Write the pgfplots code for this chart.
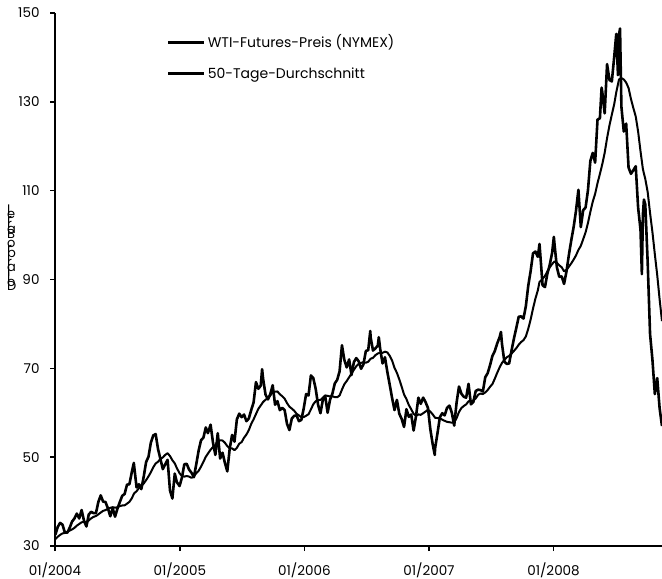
\documentclass[border=0pt]{standalone}
\usepackage{fontspec}
\setmainfont{Poppins}
\usepackage{pgfplots}
\usepackage{pgfplotstable}
\pgfplotsset{compat=1.18}
\usepgfplotslibrary{dateplot}

\pgfplotstableread{
d p
2004-01-02 32.5
2004-01-09 34.3
2004-01-16 35.2
2004-01-23 34.8
2004-01-30 33.0
2004-02-06 33.0
2004-02-13 34.1
2004-02-20 35.5
2004-02-27 36.2
2004-03-05 37.3
2004-03-12 36.2
2004-03-19 38.1
2004-03-26 35.7
2004-04-02 34.4
2004-04-09 37.1
2004-04-16 37.7
2004-04-23 37.4
2004-04-30 37.4
2004-05-07 39.9
2004-05-14 41.4
2004-05-21 40.0
2004-05-28 39.9
2004-06-04 38.5
2004-06-11 36.7
2004-06-18 38.5
2004-06-25 36.6
2004-07-02 38.4
2004-07-09 39.9
2004-07-16 41.3
2004-07-23 41.7
2004-07-30 43.8
2004-08-06 43.9
2004-08-13 46.6
2004-08-19 48.7
2004-08-27 43.2
2004-09-03 43.9
2004-09-10 42.8
2004-09-17 45.6
2004-09-24 48.9
2004-10-01 50.1
2004-10-08 53.3
2004-10-15 54.9
2004-10-22 55.2
2004-10-29 51.8
2004-11-05 49.6
2004-11-12 47.3
2004-11-19 48.4
2004-11-26 49.4
2004-12-03 42.5
2004-12-10 40.7
2004-12-17 46.3
2004-12-23 44.4
2004-12-31 43.5
2005-01-07 45.4
2005-01-14 48.4
2005-01-21 48.5
2005-01-28 47.2
2005-02-04 46.5
2005-02-11 45.5
2005-02-18 48.4
2005-02-25 51.5
2005-03-04 53.8
2005-03-11 54.4
2005-03-18 56.7
2005-03-24 55.4
2005-04-01 57.3
2005-04-08 53.3
2005-04-15 50.5
2005-04-22 55.4
2005-04-29 49.7
2005-05-06 51.0
2005-05-13 48.7
2005-05-20 46.8
2005-05-27 51.9
2005-06-03 55.0
2005-06-10 53.5
2005-06-17 58.5
2005-06-24 59.8
2005-07-01 59.0
2005-07-08 59.6
2005-07-15 58.1
2005-07-22 58.7
2005-07-29 60.6
2005-08-05 62.3
2005-08-12 66.9
2005-08-19 65.4
2005-08-26 66.1
2005-08-30 69.8
2005-09-02 67.6
2005-09-09 64.1
2005-09-16 63.0
2005-09-23 64.2
2005-09-30 66.2
2005-10-07 61.8
2005-10-14 62.6
2005-10-21 60.6
2005-10-28 61.1
2005-11-04 60.6
2005-11-11 57.5
2005-11-18 56.1
2005-11-25 58.7
2005-12-02 59.3
2005-12-09 59.4
2005-12-16 58.1
2005-12-23 58.4
2005-12-30 61.0
2006-01-06 64.2
2006-01-13 63.9
2006-01-20 68.4
2006-01-27 67.8
2006-02-03 65.4
2006-02-10 61.8
2006-02-17 59.9
2006-02-24 62.9
2006-03-03 63.7
2006-03-10 60.0
2006-03-17 62.9
2006-03-24 64.3
2006-03-31 66.6
2006-04-07 67.4
2006-04-14 69.3
2006-04-21 75.2
2006-04-28 71.9
2006-05-05 70.2
2006-05-12 72.0
2006-05-19 68.5
2006-05-26 71.4
2006-06-02 72.3
2006-06-09 71.6
2006-06-16 69.9
2006-06-23 70.9
2006-06-30 73.9
2006-07-07 74.1
2006-07-13 78.4
2006-07-14 77.0
2006-07-21 74.0
2006-07-28 74.5
2006-08-04 75.1
2006-08-07 77.0
2006-08-11 74.4
2006-08-18 71.1
2006-08-25 72.5
2006-09-01 69.2
2006-09-08 66.3
2006-09-15 63.3
2006-09-22 60.6
2006-09-29 62.9
2006-10-06 59.8
2006-10-13 58.6
2006-10-20 56.8
2006-10-27 60.8
2006-11-03 59.1
2006-11-10 59.6
2006-11-17 56.0
2006-11-24 59.2
2006-12-01 63.4
2006-12-08 62.0
2006-12-15 63.4
2006-12-22 62.4
2006-12-29 61.1
2007-01-05 56.3
2007-01-12 52.9
2007-01-18 50.5
2007-01-19 52.0
2007-01-26 55.4
2007-02-02 59.0
2007-02-09 59.9
2007-02-16 59.4
2007-02-23 61.1
2007-03-02 61.6
2007-03-09 60.0
2007-03-16 57.1
2007-03-23 62.3
2007-03-30 65.9
2007-04-06 64.3
2007-04-13 63.6
2007-04-20 63.4
2007-04-27 66.5
2007-05-04 61.9
2007-05-11 62.4
2007-05-18 64.9
2007-05-25 65.2
2007-06-01 65.1
2007-06-08 64.8
2007-06-15 68.0
2007-06-22 68.9
2007-06-29 70.7
2007-07-06 72.8
2007-07-13 73.9
2007-07-20 75.6
2007-07-27 77.0
2007-07-31 78.2
2007-08-03 75.5
2007-08-10 71.5
2007-08-17 71.0
2007-08-24 71.1
2007-08-31 74.0
2007-09-07 76.7
2007-09-14 79.1
2007-09-21 81.6
2007-09-28 81.7
2007-10-05 81.2
2007-10-12 84.0
2007-10-19 88.6
2007-10-26 91.9
2007-11-02 95.9
2007-11-09 96.3
2007-11-16 95.1
2007-11-21 98.0
2007-11-30 88.7
2007-12-07 88.3
2007-12-14 91.3
2007-12-21 93.3
2007-12-28 96.0
2008-01-02 99.6
2008-01-04 97.9
2008-01-11 92.7
2008-01-18 90.6
2008-01-25 90.7
2008-02-01 89.0
2008-02-08 91.8
2008-02-15 95.5
2008-02-22 98.8
2008-02-29 101.8
2008-03-07 105.5
2008-03-14 110.2
2008-03-21 101.8
2008-03-28 105.6
2008-04-04 106.2
2008-04-11 110.1
2008-04-18 116.7
2008-04-25 118.5
2008-05-02 116.3
2008-05-09 126.0
2008-05-16 126.3
2008-05-21 133.2
2008-05-23 132.2
2008-05-30 127.4
2008-06-06 138.5
2008-06-13 134.9
2008-06-20 134.6
2008-06-27 140.2
2008-07-03 145.3
2008-07-08 136.0
2008-07-11 145.1
2008-07-14 146.5
2008-07-18 128.9
2008-07-25 123.3
2008-08-01 125.1
2008-08-08 115.2
2008-08-15 113.8
2008-08-22 114.6
2008-08-29 115.5
2008-09-05 106.2
2008-09-12 101.2
2008-09-16 91.2
2008-09-19 104.6
2008-09-22 108.0
2008-09-26 106.9
2008-10-03 93.9
2008-10-10 77.7
2008-10-17 71.9
2008-10-24 64.2
2008-10-31 67.8
2008-11-07 61.0
2008-11-14 57.0
}\pricetable

\pgfplotstableread{
d m
2004-01-02 31.56
2004-01-09 32.08
2004-01-16 32.51
2004-01-23 32.83
2004-01-30 32.94
2004-02-06 33.20
2004-02-13 33.47
2004-02-20 33.73
2004-02-27 34.08
2004-03-05 34.59
2004-03-12 34.96
2004-03-19 35.34
2004-03-26 35.39
2004-04-02 35.35
2004-04-09 35.76
2004-04-16 36.23
2004-04-23 36.56
2004-04-30 36.75
2004-05-07 37.12
2004-05-14 37.53
2004-05-21 37.91
2004-05-28 38.09
2004-06-04 38.37
2004-06-11 38.60
2004-06-18 38.74
2004-06-25 38.63
2004-07-02 38.73
2004-07-09 38.98
2004-07-16 39.12
2004-07-23 39.15
2004-07-30 39.53
2004-08-06 39.93
2004-08-13 40.74
2004-08-20 41.86
2004-08-27 42.33
2004-09-03 43.06
2004-09-10 43.50
2004-09-17 44.07
2004-09-24 44.83
2004-10-01 45.67
2004-10-08 46.62
2004-10-15 47.72
2004-10-22 48.58
2004-10-29 48.97
2004-11-05 49.61
2004-11-12 49.95
2004-11-19 50.51
2004-11-26 50.89
2004-12-03 50.25
2004-12-10 49.31
2004-12-17 48.61
2004-12-23 47.56
2004-12-31 46.39
2005-01-07 45.75
2005-01-14 45.63
2005-01-21 45.75
2005-01-28 45.63
2005-02-04 45.34
2005-02-11 45.64
2005-02-18 46.41
2005-02-25 46.93
2005-03-04 47.87
2005-03-11 48.96
2005-03-18 50.09
2005-03-24 50.79
2005-04-01 51.67
2005-04-08 52.28
2005-04-15 52.68
2005-04-22 53.67
2005-04-29 53.80
2005-05-06 53.75
2005-05-13 53.24
2005-05-20 52.48
2005-05-27 52.00
2005-06-03 51.96
2005-06-10 51.58
2005-06-17 52.10
2005-06-24 53.03
2005-07-01 53.39
2005-07-08 54.38
2005-07-15 55.09
2005-07-22 56.09
2005-07-29 57.47
2005-08-05 58.51
2005-08-12 59.70
2005-08-19 60.89
2005-08-26 61.65
2005-09-02 62.43
2005-09-09 62.94
2005-09-16 63.28
2005-09-23 63.89
2005-09-30 64.64
2005-10-07 64.76
2005-10-14 64.79
2005-10-21 64.16
2005-10-28 63.73
2005-11-04 63.18
2005-11-11 62.17
2005-11-18 61.37
2005-11-25 60.94
2005-12-02 60.45
2005-12-09 59.77
2005-12-16 59.40
2005-12-23 58.98
2005-12-30 59.02
2006-01-06 59.33
2006-01-13 59.66
2006-01-20 60.75
2006-01-27 61.92
2006-02-03 62.59
2006-02-10 62.84
2006-02-17 62.89
2006-02-24 63.37
2006-03-03 63.90
2006-03-10 63.80
2006-03-17 63.67
2006-03-24 63.71
2006-03-31 63.53
2006-04-07 63.49
2006-04-14 63.88
2006-04-21 65.22
2006-04-28 66.42
2006-05-05 67.15
2006-05-12 67.98
2006-05-19 68.83
2006-05-26 69.68
2006-06-02 70.48
2006-06-09 70.98
2006-06-16 71.23
2006-06-23 71.39
2006-06-30 71.26
2006-07-07 71.48
2006-07-14 72.16
2006-07-21 72.36
2006-07-28 72.96
2006-08-04 73.33
2006-08-11 73.54
2006-08-18 73.49
2006-08-25 73.75
2006-09-01 73.58
2006-09-08 72.82
2006-09-15 71.74
2006-09-22 70.10
2006-09-29 68.99
2006-10-06 67.52
2006-10-13 65.87
2006-10-20 64.11
2006-10-27 63.08
2006-11-03 61.74
2006-11-10 60.78
2006-11-17 59.75
2006-11-24 59.34
2006-12-01 59.62
2006-12-08 59.53
2006-12-15 59.89
2006-12-22 60.27
2006-12-29 60.70
2007-01-05 60.25
2007-01-12 59.63
2007-01-19 58.87
2007-01-26 58.81
2007-02-02 58.79
2007-02-09 58.44
2007-02-16 58.18
2007-02-23 57.95
2007-03-02 57.87
2007-03-09 57.76
2007-03-16 57.84
2007-03-23 58.78
2007-03-30 60.17
2007-04-06 61.06
2007-04-13 61.52
2007-04-20 61.87
2007-04-27 62.58
2007-05-04 62.66
2007-05-11 62.74
2007-05-18 63.23
2007-05-25 64.04
2007-06-01 64.32
2007-06-08 64.21
2007-06-15 64.58
2007-06-22 65.11
2007-06-29 65.84
2007-07-06 66.47
2007-07-13 67.67
2007-07-20 68.99
2007-07-27 70.20
2007-08-03 71.23
2007-08-10 71.87
2007-08-17 72.49
2007-08-24 72.80
2007-08-31 73.31
2007-09-07 73.91
2007-09-14 74.54
2007-09-21 75.31
2007-09-28 75.92
2007-10-05 76.34
2007-10-12 77.19
2007-10-19 78.90
2007-10-26 80.99
2007-11-02 83.47
2007-11-09 85.70
2007-11-16 87.54
2007-11-21 89.43
2007-11-30 90.14
2007-12-07 90.80
2007-12-14 91.81
2007-12-21 92.74
2007-12-28 93.48
2008-01-04 94.08
2008-01-11 93.76
2008-01-18 93.19
2008-01-25 92.75
2008-02-01 91.85
2008-02-08 92.16
2008-02-15 92.88
2008-02-22 93.63
2008-02-29 94.48
2008-03-07 95.43
2008-03-14 96.66
2008-03-21 97.57
2008-03-28 99.07
2008-04-04 100.62
2008-04-11 102.73
2008-04-18 105.22
2008-04-25 107.52
2008-05-02 109.27
2008-05-09 111.69
2008-05-16 113.77
2008-05-23 115.97
2008-05-30 118.53
2008-06-06 121.82
2008-06-13 124.69
2008-06-20 127.14
2008-06-27 129.49
2008-07-03 132.17
2008-07-11 135.05
2008-07-18 135.34
2008-07-25 135.04
2008-08-01 134.33
2008-08-08 133.11
2008-08-15 130.64
2008-08-22 128.61
2008-08-29 126.70
2008-09-05 123.30
2008-09-12 118.89
2008-09-19 114.84
2008-09-26 112.64
2008-10-03 109.70
2008-10-10 104.96
2008-10-17 100.63
2008-10-24 95.67
2008-10-31 90.99
2008-11-07 85.54
2008-11-14 80.62
}\matable

\begin{document}
\begin{tikzpicture}
\path[use as bounding box] (0,0) rectangle (662bp,579bp);
\begin{axis}[
  at={(55bp,33bp)}, anchor=south west,
  scale only axis, width=607bp, height=533bp,
  date coordinates in=x,
  xmin=2004-01-01, xmax=2008-11-14,
  ymin=30, ymax=150,
  xtick={2004-01-01,2005-01-01,2006-01-01,2007-01-01,2008-01-01},
  xticklabels={01/2004,01/2005,01/2006,01/2007,01/2008},
  ytick={30,50,70,90,110,130,150},
  axis lines=left,
  axis line style={-, line width=2bp},
  tick align=outside, major tick length=5bp,
  tick style={black, line width=1.5bp},
  ticklabel style={font=\fontsize{13.5bp}{16bp}\selectfont},
  xticklabel style={yshift=-8bp},
  yticklabel style={xshift=-7bp},
  /pgf/number format/assume math mode=true,
  legend style={draw=none, fill=none, at={(0.1845,0.963)}, anchor=north west,
    inner sep=0pt, row sep=14bp, nodes={inner sep=2bp},
    font=\fontsize{14bp}{16bp}\selectfont,
    /tikz/every even column/.append style={column sep=0pt}},
  legend cell align=left,
  legend image code/.code={\draw[#1, line width=2.6bp] (0bp,0bp) -- (36bp,0bp);},
]
\addplot[black, line width=2.6bp, line join=round] table[x=d, y=p] {\pricetable};
\addlegendentry{WTI-Futures-Preis (NYMEX)}
\addplot[black, line width=2bp, line join=round] table[x=d, y=m] {\matable};
\addlegendentry{50-Tage-Durchschnitt}
\end{axis}
\foreach \c [count=\i] in {l,e,r,r,a,B,{},o,r,p,{},r,a,l,l,o,D} {
  \node[anchor=base west, inner sep=0pt, font=\fontsize{13bp}{15bp}\selectfont]
    at (7bp, {(365-(\i-1)*4.8)*1bp}) {\c};
}
\end{tikzpicture}
\end{document}
